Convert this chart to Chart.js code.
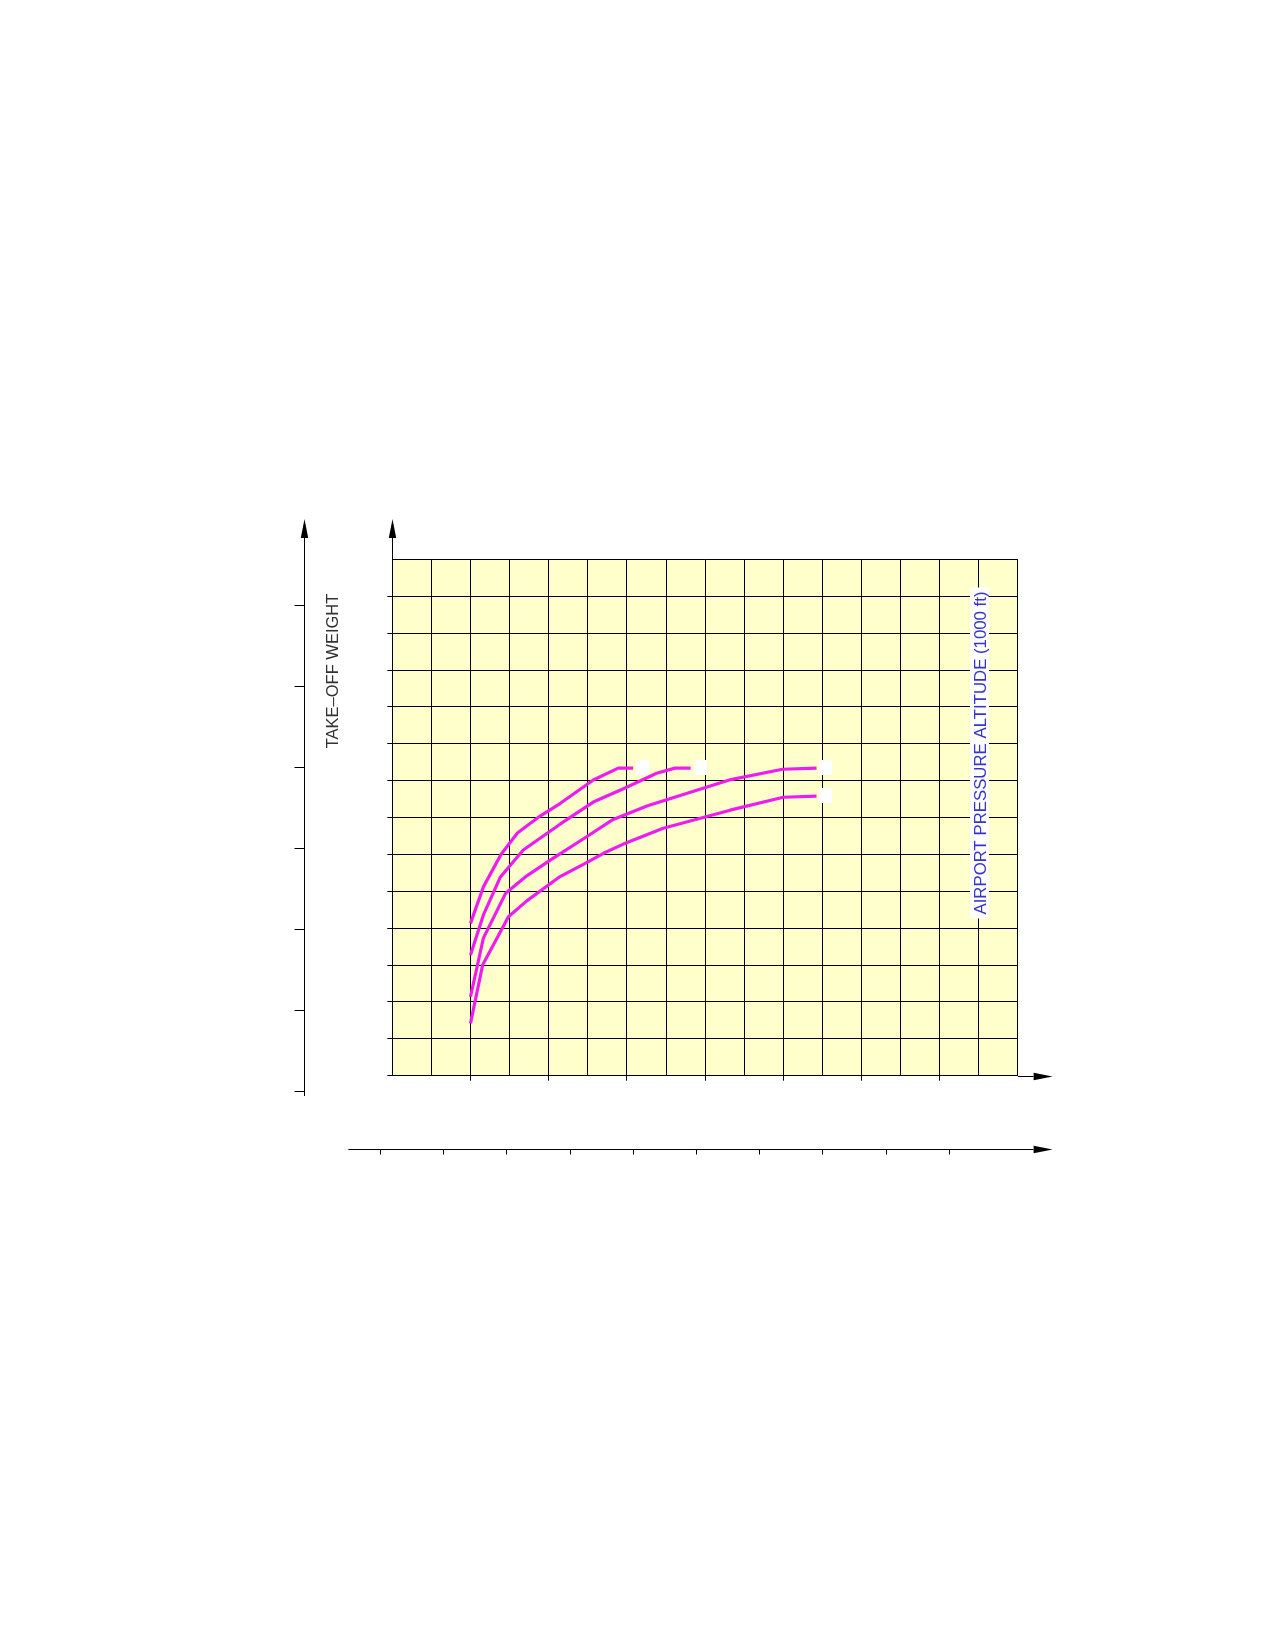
<!DOCTYPE html>
<html>
<head>
<meta charset="utf-8">
<script src="https://cdn.jsdelivr.net/npm/chart.js@4"></script>
<style>
  html, body { margin: 0; padding: 0; background: #ffffff; }
  #wrap { position: relative; width: 1275px; height: 1645px; }
</style>
</head>
<body>
<div id="wrap"><canvas id="c" width="1275" height="1645"></canvas></div>
<script>
// ---------------- data (grid units of the chart) ----------------
const gridXMax = 16;            // 16 columns
const gridYMax = 14;            // 14 rows
const xTickMarks = [2, 4, 6, 8, 10, 12, 14];   // tick marks under the inner x axis

const curve1 = [[2.0,4.13],[2.33,5.12],[2.78,6.0],[3.2,6.58],[3.78,7.04],[4.29,7.38],[5.14,8.02],[5.78,8.34],[6.16,8.34]];
const curve2 = [[2.0,3.27],[2.33,4.36],[2.76,5.38],[3.35,6.12],[4.29,6.82],[5.14,7.42],[5.91,7.78],[6.76,8.2],[7.23,8.34],[7.63,8.34]];
const curve3 = [[2.0,2.14],[2.33,3.73],[2.9,4.95],[3.44,5.42],[4.03,5.84],[4.97,6.48],[5.65,6.95],[6.53,7.32],[8.66,8.03],[9.98,8.31],[10.85,8.34]];
const curve4 = [[2.0,1.42],[2.31,3.0],[2.97,4.31],[3.44,4.74],[4.29,5.4],[4.97,5.78],[5.4,6.03],[5.91,6.28],[6.93,6.71],[8.64,7.2],[10.0,7.55],[10.85,7.58]];
const curveEndBoxes = [[6.39,8.35],[7.87,8.35],[11.08,8.35],[11.08,7.6]];

const outerYTicks = [0, 1, 2, 3, 4, 5, 6];        // outer take-off weight axis ticks
const outerXTicks = [0, 1, 2, 3, 4, 5, 6, 7, 8, 9]; // lower outer axis ticks

const yTitle = "TAKE\u2013OFF WEIGHT";
const altLabel = "AIRPORT PRESSURE ALTITUDE (1000 ft)";

// ---------------- layout / styles ----------------
const LAYOUT = {
  plotLeft: 392.3, plotRight: 1017.9, plotTop: 559.4, plotBottom: 1075.7,
  tickLen: 5,
  arrowTipTop: 519, arrowTipRight: 1052.6, arrowLen: 19, arrowHalfW: 3.7,
  outerYx: 304, outerYbottomTick: 1091, outerYstep: 81, outerYend: 1096, outerYtickLen: 10,
  outerXy: 1149, outerXstart: 348.4, outerXfirstTick: 379.9, outerXstep: 63.2, outerXtickLen: 5,
  yTitleX: 332.5, yTitleY: 671,
  altX: 980, altY: 753
};
const MAGENTA = '#ee1cee';
const FONT = '"Liberation Sans", Arial, sans-serif';

const toPts = arr => arr.map(p => ({x: p[0], y: p[1]}));

const boxImg = document.createElement('canvas');
boxImg.width = 13; boxImg.height = 15;
(function(){ const g = boxImg.getContext('2d'); g.fillStyle = '#ffffff'; g.fillRect(0,0,13,15); })();

const lineDs = (data) => ({
  type: 'line', data: toPts(data), borderColor: MAGENTA, borderWidth: 3.2,
  pointRadius: 0, tension: 0, fill: false, borderJoinStyle: 'round'
});

const decor = {
  id: 'decor',
  beforeDraw(chart) {
    const ctx = chart.ctx, a = chart.chartArea;
    ctx.save();
    ctx.fillStyle = '#ffffff';
    ctx.fillRect(0, 0, chart.width, chart.height);
    ctx.fillStyle = '#ffffcc';
    ctx.fillRect(a.left, a.top, a.right - a.left, a.bottom - a.top);
    ctx.restore();
  },
  afterDraw(chart) {
    const ctx = chart.ctx, a = chart.chartArea, L = LAYOUT;
    const al = v => Math.round(v) + 0.5;
    ctx.save();
    ctx.strokeStyle = '#000'; ctx.fillStyle = '#000'; ctx.lineWidth = 1;
    const line = (x1,y1,x2,y2) => { ctx.beginPath(); ctx.moveTo(x1,y1); ctx.lineTo(x2,y2); ctx.stroke(); };
    const arrowUp = (x, tip) => { ctx.beginPath(); ctx.moveTo(x, tip); ctx.lineTo(x - L.arrowHalfW, tip + L.arrowLen); ctx.lineTo(x + L.arrowHalfW, tip + L.arrowLen); ctx.closePath(); ctx.fill(); };
    const arrowRight = (y, tip) => { ctx.beginPath(); ctx.moveTo(tip, y); ctx.lineTo(tip - L.arrowLen, y - L.arrowHalfW); ctx.lineTo(tip - L.arrowLen, y + L.arrowHalfW); ctx.closePath(); ctx.fill(); };

    // inner axes extensions with arrows
    const ix = al(a.left), iy = al(a.bottom);
    line(ix, a.top, ix, L.arrowTipTop + L.arrowLen);
    arrowUp(ix, L.arrowTipTop);
    line(a.right, iy, L.arrowTipRight - L.arrowLen, iy);
    arrowRight(iy, L.arrowTipRight);

    // outer take-off weight axis
    const ox = al(L.outerYx);
    line(ox, L.outerYend, ox, L.arrowTipTop + L.arrowLen);
    arrowUp(ox, L.arrowTipTop);
    outerYTicks.forEach(t => {
      const y = al(L.outerYbottomTick - t * L.outerYstep);
      line(ox - L.outerYtickLen, y, ox, y);
    });

    // lower outer axis
    const oy = al(L.outerXy);
    line(L.outerXstart, oy, L.arrowTipRight - L.arrowLen, oy);
    arrowRight(oy, L.arrowTipRight);
    outerXTicks.forEach(t => {
      const x = al(L.outerXfirstTick + t * L.outerXstep);
      line(x, oy, x, oy + L.outerXtickLen);
    });

    // titles
    ctx.textAlign = 'center'; ctx.textBaseline = 'middle';
    ctx.save();
    ctx.font = '16.5px ' + FONT;
    ctx.translate(L.yTitleX, L.yTitleY); ctx.rotate(-Math.PI / 2);
    ctx.fillStyle = '#333333';
    ctx.fillText(yTitle, 0, 1);
    ctx.restore();

    ctx.save();
    ctx.font = '16.8px ' + FONT;
    ctx.translate(L.altX, L.altY); ctx.rotate(-Math.PI / 2);
    const w = ctx.measureText(altLabel).width;
    ctx.fillStyle = '#ffffff';
    ctx.fillRect(-w / 2 - 4, -10, w + 8, 19);
    ctx.fillStyle = '#3535d0';
    ctx.fillText(altLabel, 0, 1);
    ctx.restore();
    ctx.restore();
  }
};

const chart = new Chart(document.getElementById('c'), {
  type: 'scatter',
  data: {
    datasets: [
      lineDs(curve1), lineDs(curve2), lineDs(curve3), lineDs(curve4),
      { type: 'scatter', data: toPts(curveEndBoxes), pointStyle: boxImg, pointRadius: 7,
        backgroundColor: '#ffffff', borderWidth: 0, showLine: false }
    ]
  },
  options: {
    responsive: false, animation: false, devicePixelRatio: 1,
    layout: { padding: {
      left: LAYOUT.plotLeft - LAYOUT.tickLen,
      top: LAYOUT.plotTop,
      right: 1275 - LAYOUT.plotRight,
      bottom: 1645 - LAYOUT.plotBottom - LAYOUT.tickLen
    } },
    plugins: { legend: { display: false }, tooltip: { enabled: false } },
    scales: {
      x: {
        type: 'linear', min: 0, max: gridXMax,
        ticks: { display: false, stepSize: 1 },
        grid: { color: '#000', lineWidth: 1, drawTicks: true, tickLength: LAYOUT.tickLen,
                tickColor: c => xTickMarks.includes(c.tick.value) ? '#000' : 'rgba(0,0,0,0)' },
        border: { display: true, color: '#000', width: 1 }
      },
      y: {
        type: 'linear', min: 0, max: gridYMax,
        ticks: { display: false, stepSize: 1 },
        grid: { color: '#000', lineWidth: 1, drawTicks: true, tickLength: LAYOUT.tickLen,
                tickColor: c => c.tick.value < gridYMax ? '#000' : 'rgba(0,0,0,0)' },
        border: { display: true, color: '#000', width: 1 }
      }
    }
  },
  plugins: [decor]
});
</script>
</body>
</html>
